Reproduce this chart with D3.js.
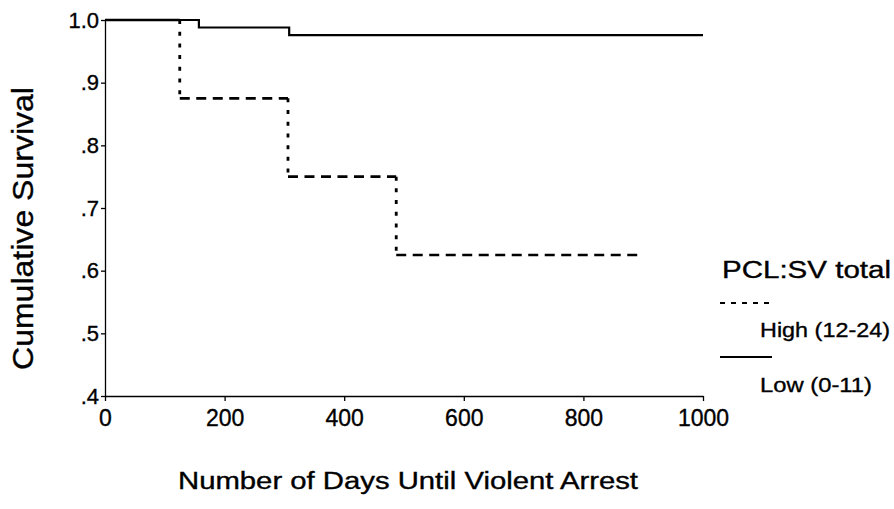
<!DOCTYPE html>
<html>
<head>
<meta charset="utf-8">
<script src="https://cdn.jsdelivr.net/npm/d3@7"></script>
<style>
  html, body { margin: 0; padding: 0; background: #fff; }
  svg { display: block; }
  text { font-family: "Liberation Sans", Arial, Helvetica, sans-serif; fill: #000; stroke: #000; stroke-width: 0.35px; }
</style>
</head>
<body>
<svg id="chart" width="894" height="509"></svg>
<script>
// Kaplan-Meier survival steps (days, cumulative survival) for each PCL:SV group
const highDays = [0, 125, 306, 487, 900];
const highSurvival = [1.0, 0.875, 0.75, 0.625, 0.625];
const lowDays = [0, 157, 308, 1000];
const lowSurvival = [1.0, 0.988, 0.976, 0.976];

const xTicks = [0, 200, 400, 600, 800, 1000];
const yTicks = [1.0, 0.9, 0.8, 0.7, 0.6, 0.5, 0.4];
const yTickLabels = ["1.0", ".9", ".8", ".7", ".6", ".5", ".4"];

const legendTitle = "PCL:SV total";
const groupNames = ["High (12-24)", "Low (0-11)"];

const svg = d3.select("#chart");

const x = d3.scaleLinear().domain([0, 1000]).range([105, 703]);
const y = d3.scaleLinear().domain([0.4, 1.0]).range([396, 20]);

// Axes
const xAxis = d3.axisBottom(x)
  .tickValues(xTicks)
  .tickSize(5)
  .tickSizeOuter(0)
  .tickPadding(9)
  .tickFormat(d3.format("d"));

const yAxis = d3.axisLeft(y)
  .tickValues(yTicks)
  .tickSize(4)
  .tickSizeOuter(0)
  .tickPadding(2)
  .tickFormat((d, i) => yTickLabels[i]);

const gx = svg.append("g").attr("transform", `translate(0,${y(0.4)})`).call(xAxis);
const gy = svg.append("g").attr("transform", `translate(${x(0)},0)`).call(yAxis);

[gx, gy].forEach(g => {
  g.select(".domain").attr("stroke", "#000").attr("stroke-width", 1.3);
  g.selectAll(".tick line").attr("stroke", "#000").attr("stroke-width", 1.3);
  g.selectAll(".tick text")
    .attr("fill", "#000")
    .style("font-family", '"Liberation Sans", Arial, sans-serif');
});
gx.selectAll(".tick text").style("font-size", "23px");
gy.selectAll(".tick text").style("font-size", "22px");

// Low group: solid step line
const stepLine = d3.line()
  .x(d => x(d[0]))
  .y(d => y(d[1]))
  .curve(d3.curveStepAfter);

svg.append("path")
  .datum(lowDays.map((d, i) => [d, lowSurvival[i]]))
  .attr("d", stepLine)
  .attr("fill", "none")
  .attr("stroke", "#000")
  .attr("stroke-width", 2.2);

// High group: dashed steps, horizontal runs and vertical drops drawn separately
const highRuns = [];
const highDrops = [];
for (let i = 0; i < highDays.length - 1; i++) {
  highRuns.push({ x1: highDays[i], x2: highDays[i + 1], v: highSurvival[i] });
  if (highSurvival[i + 1] !== highSurvival[i]) {
    highDrops.push({ t: highDays[i + 1], v1: highSurvival[i], v2: highSurvival[i + 1] });
  }
}

svg.append("g").selectAll("line")
  .data(highRuns)
  .join("line")
  .attr("x1", d => x(d.x1))
  .attr("x2", d => x(d.x2))
  .attr("y1", d => y(d.v))
  .attr("y2", d => y(d.v))
  .attr("stroke", "#000")
  .attr("stroke-width", 2.6)
  .attr("stroke-dasharray", d => d.v === 1 ? "none" : "10,6.5");

svg.append("g").selectAll("line")
  .data(highDrops)
  .join("line")
  .attr("x1", d => x(d.t))
  .attr("x2", d => x(d.t))
  .attr("y1", d => y(d.v1))
  .attr("y2", d => y(d.v2))
  .attr("stroke", "#000")
  .attr("stroke-width", 2.8)
  .attr("stroke-dasharray", "4,7.7");

// Axis titles
svg.append("text")
  .attr("x", 178)
  .attr("y", 489)
  .attr("textLength", 460)
  .attr("lengthAdjust", "spacingAndGlyphs")
  .style("font-size", "23px")
  .text("Number of Days Until Violent Arrest");

svg.append("text")
  .attr("transform", "translate(33,370) rotate(-90)")
  .attr("textLength", 283)
  .attr("lengthAdjust", "spacingAndGlyphs")
  .style("font-size", "29px")
  .text("Cumulative Survival");

// Legend
const legend = svg.append("g");
legend.append("text")
  .attr("x", 722).attr("y", 278)
  .attr("textLength", 169)
  .attr("lengthAdjust", "spacingAndGlyphs")
  .style("font-size", "23px")
  .text(legendTitle);

const legendRows = [
  { name: groupNames[0], lineY: 303, textY: 337, width: 130, dash: "5,6" },
  { name: groupNames[1], lineY: 357, textY: 392, width: 112, dash: "none" }
];

legendRows.forEach(r => {
  legend.append("line")
    .attr("x1", 720).attr("x2", 772)
    .attr("y1", r.lineY).attr("y2", r.lineY)
    .attr("stroke", "#000")
    .attr("stroke-width", 2)
    .attr("stroke-dasharray", r.dash);
  legend.append("text")
    .attr("x", 760).attr("y", r.textY)
    .attr("textLength", r.width)
    .attr("lengthAdjust", "spacingAndGlyphs")
    .style("font-size", "21px")
    .text(r.name);
});
</script>
</body>
</html>
